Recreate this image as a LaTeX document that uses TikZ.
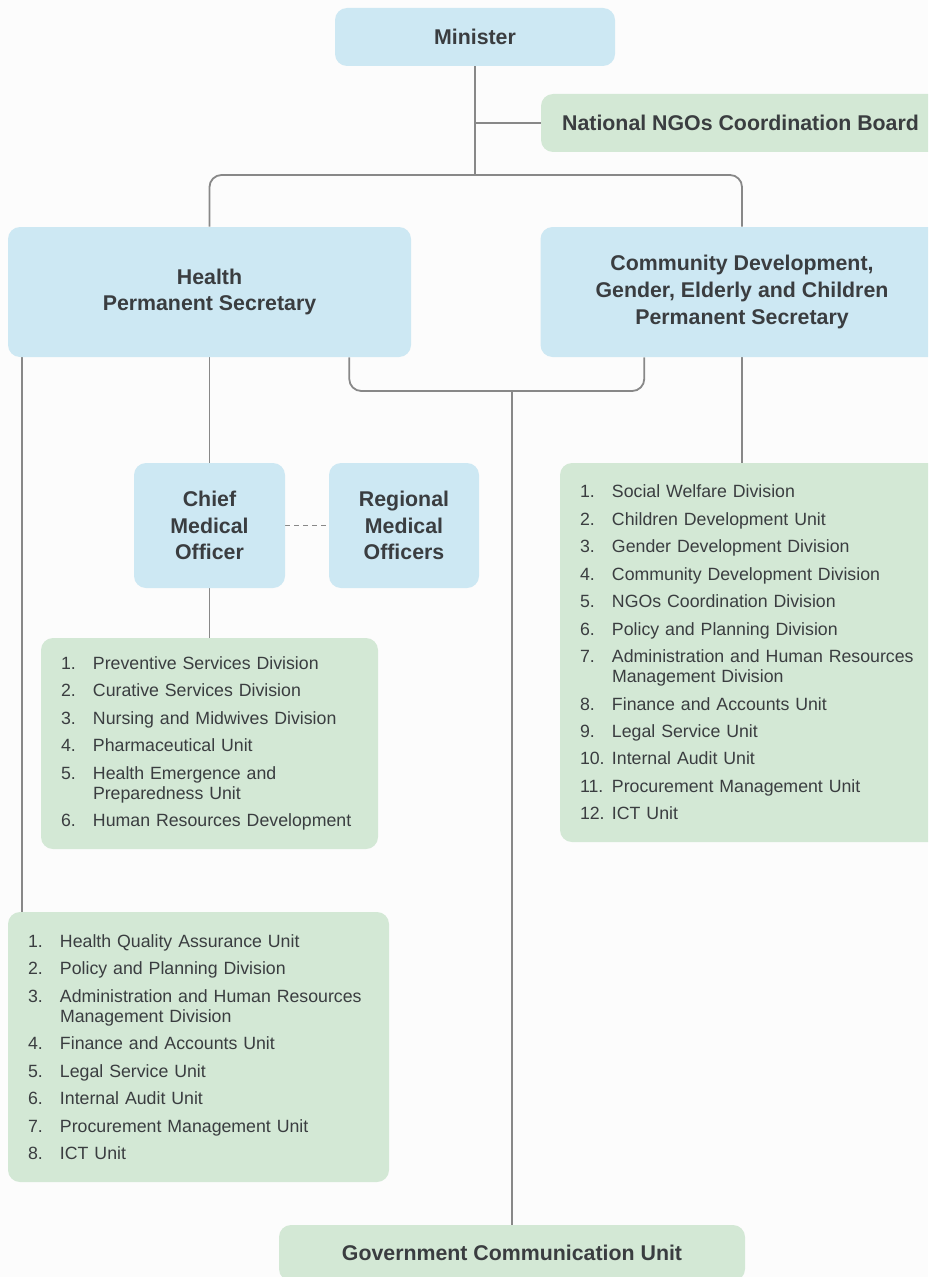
\documentclass[tikz,border=0pt]{standalone}
\usepackage{fontspec}
\setmainfont{Liberation Sans}
\usepackage{xcolor}
\usepackage{tikz}
\usetikzlibrary{positioning,calc,backgrounds}
\definecolor{boxblue}{RGB}{205,232,243}
\definecolor{boxgreen}{RGB}{211,232,213}
\definecolor{ink}{RGB}{58,61,64}
\definecolor{linegray}{RGB}{136,136,136}
\definecolor{paper}{RGB}{252,252,252}
\tikzset{
  head/.style={fill=boxblue, rounded corners=9pt, align=center, text=ink,
               font=\fontsize{16}{20}\selectfont\bfseries, inner sep=0pt},
  unit/.style={head, fill=boxgreen},
  units/.style={fill=boxgreen, rounded corners=9pt, align=left, text=ink,
                font=\fontsize{13.3}{15}\selectfont, inner xsep=15pt, inner ysep=0pt},
  wire/.style={draw=linegray, line width=1.35pt},
  dwire/.style={wire, dash pattern=on 3.75pt off 3pt}
}
\newcommand{\itm}[1]{\makebox[24pt][l]{#1}}

\begin{document}
\begin{tikzpicture}[x=0.75pt,y=-0.75pt]
  \useasboundingbox (0,0) rectangle (928,1277);
  \clip (0,0) rectangle (928,1277);
  \begin{scope}[on background layer]
    \fill[paper] (0,0) rectangle (928,1277);
  \end{scope}

  % top level
  \node[head, minimum width=210pt, minimum height=43.5pt] (minister) at (475,37) {Minister};
  \node[unit, minimum width=299.25pt, minimum height=43.5pt] (ngo) at (740.5,123) {National NGOs Coordination Board};

  % permanent secretaries
  \node[head, minimum width=302.25pt, minimum height=97.5pt] (health) at (209.5,292) {Health\\Permanent Secretary};
  \node[head, minimum width=302.25pt, minimum height=97.5pt] (cdps) at (742,292) {Community Development,\\Gender, Elderly and Children\\Permanent Secretary};

  % medical officers
  \node[head, minimum width=113.25pt, minimum height=93.75pt] (cmo) at (209.5,525.5) {Chief\\Medical\\Officer};
  \node[head, minimum width=112.5pt, minimum height=93.75pt] (rmo) at (404,525.5) {Regional\\Medical\\Officers};

  % lists
  \node[units, text width=222.75pt, minimum height=158.25pt] (hlist) at (209.5,743.5) {%
    \itm{1.}Preventive Services Division\\[5.6pt]
    \itm{2.}Curative Services Division\\[5.6pt]
    \itm{3.}Nursing and Midwives Division\\[5.6pt]
    \itm{4.}Pharmaceutical Unit\\[5.6pt]
    \itm{5.}Health Emergence and\\\hspace*{24pt}Preparedness Unit\\[5.6pt]
    \itm{6.}Human Resources Development};
  \node[units, text width=266.25pt, minimum height=284.25pt] (cdlist) at (757.5,652.5) {%
    \itm{1.}Social Welfare Division\\[5.6pt]
    \itm{2.}Children Development Unit\\[5.6pt]
    \itm{3.}Gender Development Division\\[5.6pt]
    \itm{4.}Community Development Division\\[5.6pt]
    \itm{5.}NGOs Coordination Division\\[5.6pt]
    \itm{6.}Policy and Planning Division\\[5.6pt]
    \itm{7.}Administration and Human Resources\\\hspace*{24pt}Management Division\\[5.6pt]
    \itm{8.}Finance and Accounts Unit\\[5.6pt]
    \itm{9.}Legal Service Unit\\[5.6pt]
    \itm{10.}Internal Audit Unit\\[5.6pt]
    \itm{11.}Procurement Management Unit\\[5.6pt]
    \itm{12.}ICT Unit};
  \node[units, text width=255.75pt, minimum height=202.5pt] (adminlist) at (198.5,1047) {%
    \itm{1.}Health Quality Assurance Unit\\[5.6pt]
    \itm{2.}Policy and Planning Division\\[5.6pt]
    \itm{3.}Administration and Human Resources\\\hspace*{24pt}Management Division\\[5.6pt]
    \itm{4.}Finance and Accounts Unit\\[5.6pt]
    \itm{5.}Legal Service Unit\\[5.6pt]
    \itm{6.}Internal Audit Unit\\[5.6pt]
    \itm{7.}Procurement Management Unit\\[5.6pt]
    \itm{8.}ICT Unit};

  \node[unit, minimum width=349.5pt, minimum height=42pt] (gov) at (512,1253) {Government Communication Unit};

  % connectors
  \begin{scope}[on background layer]
    \coordinate (split) at (475,175);
    \coordinate (join) at (512,391);
    \draw[wire] (minister.south) -- (split);
    \draw[wire] (ngo.west) -- (ngo.west -| minister.south);
    \draw[wire, rounded corners=9pt] (health.north) |- (split) -| (cdps.north);
    \draw[wire, rounded corners=9pt] ([xshift=-46.5pt]health.south east) |- (join) -| ([xshift=78pt]cdps.south west);
    \draw[wire] (join) -- (gov.north);
    \draw[wire] ([xshift=10.5pt]health.south west) -- ([xshift=10.5pt]adminlist.north west);
    \draw[wire] (health.south) -- (cmo.north);
    \draw[dwire] (cmo.east) -- (rmo.west);
    \draw[wire] (cmo.south) -- (hlist.north);
    \draw[wire] (cdps.south) -- (cdps.south |- cdlist.north);
  \end{scope}
\end{tikzpicture}
\end{document}
